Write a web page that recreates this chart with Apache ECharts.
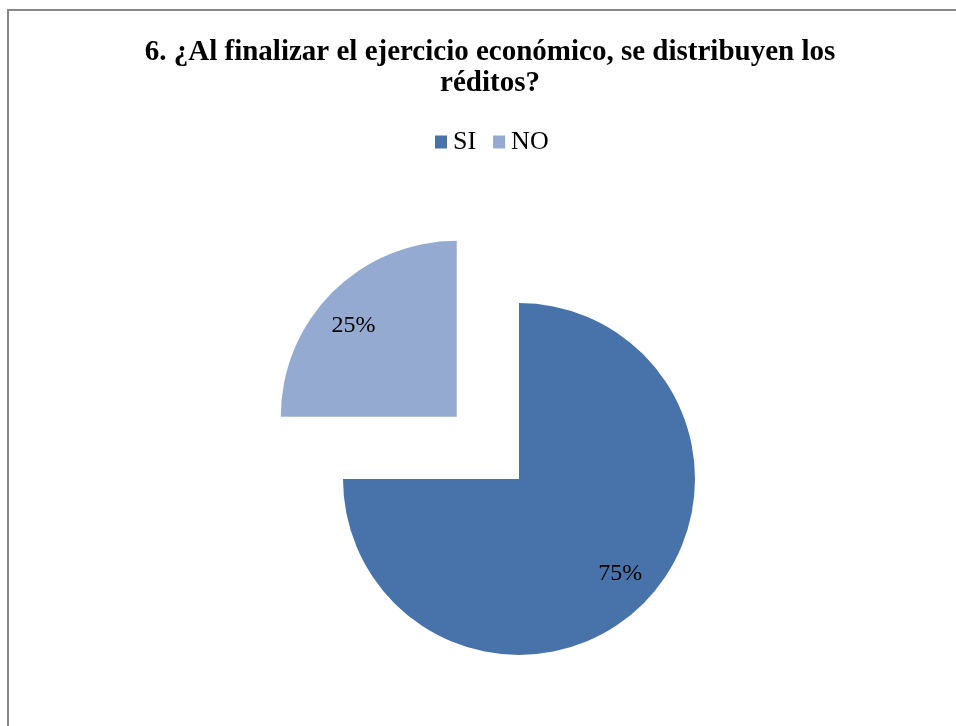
<!DOCTYPE html>
<html>
<head>
<meta charset="utf-8">
<script src="https://cdn.jsdelivr.net/npm/echarts@6/dist/echarts.min.js"></script>
<style>
  html, body { margin: 0; padding: 0; background: #fff; }
  #chart { width: 956px; height: 726px; }
</style>
</head>
<body>
<div id="chart"></div>
<script>
// Answers to question 6 and their share of responses (%)
const categories = ['SI', 'NO'];
const values = [75, 25];
const colors = ['#4773AA', '#95AAD1'];
const titleText = '6. ¿Al finalizar el ejercicio económico, se distribuyen los\nréditos?';

const chart = echarts.init(document.getElementById('chart'));

// Nudge each percentage label outward toward the rim of its slice
const labelShift = [
  { dx: 37, dy: 30 },
  { dx: -39, dy: -27 }
];

chart.setOption({
  animation: false,
  backgroundColor: '#ffffff',
  color: colors,
  graphic: [{
    type: 'rect',
    shape: { x: 8, y: 10, width: 1000, height: 800 },
    style: { fill: 'none', stroke: '#888888', lineWidth: 2 },
    silent: true
  }],
  title: {
    text: titleText,
    left: 485,
    textAlign: 'center',
    top: 32,
    textStyle: {
      fontFamily: 'Liberation Serif',
      fontWeight: 'bold',
      fontSize: 29,
      lineHeight: 31,
      color: '#000'
    }
  },
  legend: {
    data: categories,
    left: 430,
    top: 124,
    itemWidth: 12,
    itemHeight: 13,
    itemGap: 17,
    icon: 'rect',
    selectedMode: false,
    textStyle: {
      fontFamily: 'Liberation Serif',
      fontSize: 26,
      color: '#000',
      padding: [0, 0, 0, 1]
    }
  },
  series: [{
    type: 'pie',
    center: [519, 479],
    radius: [0, 176],
    startAngle: 90,
    clockwise: true,
    selectedMode: 'single',
    selectedOffset: 88,
    silent: true,
    emphasis: { disabled: true },
    itemStyle: { borderWidth: 0 },
    label: {
      show: true,
      position: 'inside',
      formatter: '{d}%',
      fontFamily: 'Liberation Serif',
      fontSize: 24,
      color: '#000'
    },
    labelLine: { show: false },
    labelLayout: function (params) {
      return labelShift[params.dataIndex];
    },
    data: categories.map(function (name, i) {
      return { name: name, value: values[i], selected: name === 'NO' };
    })
  }]
});
</script>
</body>
</html>
